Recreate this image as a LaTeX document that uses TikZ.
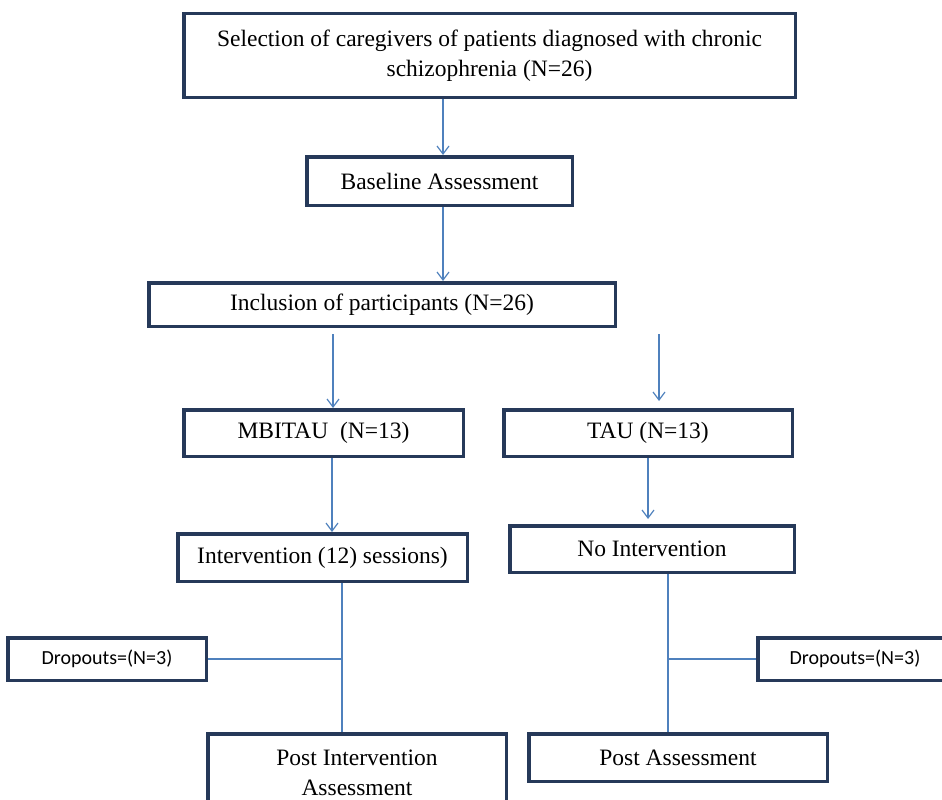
\documentclass[tikz,border=0pt]{standalone}
\usepackage{fontspec}
\setmainfont{Liberation Serif}
\newfontfamily\dropfont{Carlito}
\usetikzlibrary{arrows.meta}
\definecolor{boxBlue}{RGB}{38,57,89}
\definecolor{lineBlue}{RGB}{79,129,189}
\begin{document}
\begin{tikzpicture}
        [x=1pt, y=-1pt,
        block/.style={rectangle, draw=boxBlue, line width=3.5pt, align=center, inner sep=2pt, font=\fontsize{23.5}{30}\selectfont},
        blockDrop/.style={block, font=\dropfont\fontsize{20}{24}\selectfont},
        link/.style={lineBlue, line width=1.2pt},
        linkArrow/.style={link, -{Straight Barb[length=8pt, width=12pt]}}]
        \useasboundingbox (0,0) rectangle (942,800);
        \node[block, minimum width=611.5pt, minimum height=83.5pt] (A) at (489.5,55.5) {Selection of caregivers of patients diagnosed with chronic\\schizophrenia (N=26)};
        \node[block, minimum width=265.5pt, minimum height=48.5pt] (B) at (439.5,181) {Baseline Assessment};
        \node[block, minimum width=466.5pt, minimum height=43.5pt] (C) at (382,304.5) {Inclusion of participants (N=26)};
        \node[block, minimum width=279.5pt, minimum height=46.5pt] (D) at (323.5,433) {MBITAU\ \ (N=13)};
        \node[block, minimum width=288.5pt, minimum height=46.5pt] (E) at (648,433) {TAU (N=13)};
        \node[block, minimum width=289.5pt, minimum height=47.5pt] (F) at (322.5,557.5) {Intervention (12) sessions)};
        \node[block, minimum width=284.5pt, minimum height=46.5pt] (G) at (652,549) {No Intervention};
        \node[blockDrop, minimum width=198.5pt, minimum height=42.5pt] (H) at (107,659) {Dropouts=(N=3)};
        \node[blockDrop, minimum width=194pt, minimum height=42.5pt] (I) at (855,659) {Dropouts=(N=3)};
        \node[block, minimum width=298.5pt, minimum height=78pt] (J) at (357,773) {Post Intervention\\Assessment};
        \node[block, minimum width=298.5pt, minimum height=47.5pt] (K) at (678,757.5) {Post Assessment};

        \draw[linkArrow] ([xshift=3.5pt]B.north |- A.south) -- ([xshift=3.5pt]B.north);
        \draw[linkArrow] ([xshift=3.5pt]B.south) -- ([xshift=3.5pt]B.south |- C.north);
        \draw[linkArrow, shorten <=6pt] ([xshift=9.5pt]D.north |- C.south) -- ([xshift=9.5pt]D.north);
        \draw[linkArrow, shorten <=6pt, shorten >=7pt] ([xshift=11pt]E.north |- C.south) -- ([xshift=11pt]E.north);
        \draw[linkArrow] ([xshift=8.5pt]D.south) -- ([xshift=8.5pt]D.south |- F.north);
        \draw[linkArrow, shorten >=5pt] (E.south) -- (E.south |- G.north);

        % dropouts branch off the plain lines
        \coordinate (L) at ([xshift=19.5pt]F.south |- H.east);
        \draw[link] ([xshift=19.5pt]F.south) -- ([xshift=19.5pt]F.south |- J.north);
        \draw[link] (H.east) -- (L);
        \coordinate (R) at ([xshift=16pt]G.south |- I.west);
        \draw[link] ([xshift=16pt]G.south) -- ([xshift=16pt]G.south |- K.north);
        \draw[link] (R) -- (I.west);
    \end{tikzpicture}
\end{document}
